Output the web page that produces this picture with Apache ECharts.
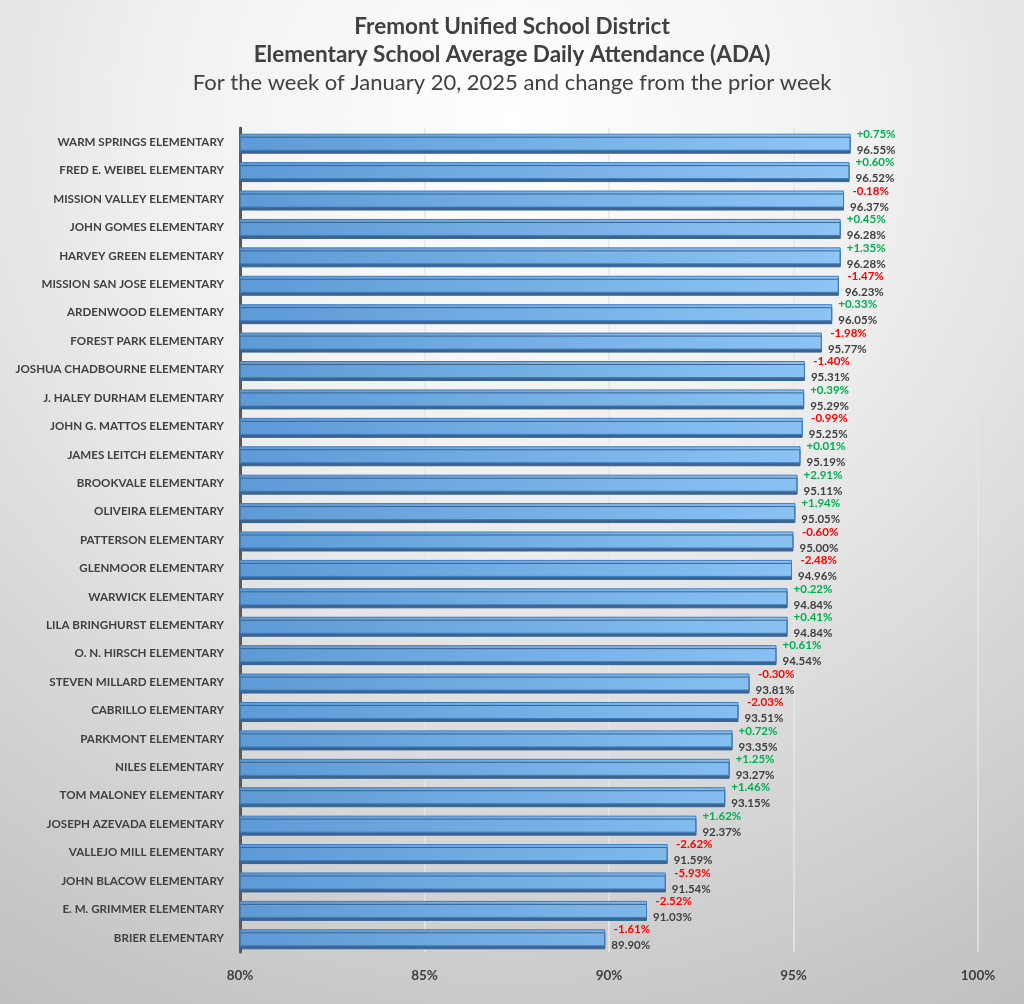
<!DOCTYPE html>
<html>
<head>
<meta charset="utf-8">
<script src="https://cdn.jsdelivr.net/npm/echarts@6/dist/echarts.min.js"></script>
<style>
  html, body { margin: 0; padding: 0; }
  #chart { width: 1024px; height: 1004px; }
</style>
</head>
<body>
<div id="chart"></div>
<script>
// schools, top to bottom
var schools = [
  'WARM SPRINGS ELEMENTARY', 'FRED E. WEIBEL ELEMENTARY', 'MISSION VALLEY ELEMENTARY',
  'JOHN GOMES ELEMENTARY', 'HARVEY GREEN ELEMENTARY', 'MISSION SAN JOSE ELEMENTARY',
  'ARDENWOOD ELEMENTARY', 'FOREST PARK ELEMENTARY', 'JOSHUA CHADBOURNE ELEMENTARY',
  'J. HALEY DURHAM ELEMENTARY', 'JOHN G. MATTOS ELEMENTARY', 'JAMES LEITCH ELEMENTARY',
  'BROOKVALE ELEMENTARY', 'OLIVEIRA ELEMENTARY', 'PATTERSON ELEMENTARY',
  'GLENMOOR ELEMENTARY', 'WARWICK ELEMENTARY', 'LILA BRINGHURST ELEMENTARY',
  'O. N. HIRSCH ELEMENTARY', 'STEVEN MILLARD ELEMENTARY', 'CABRILLO ELEMENTARY',
  'PARKMONT ELEMENTARY', 'NILES ELEMENTARY', 'TOM MALONEY ELEMENTARY',
  'JOSEPH AZEVADA ELEMENTARY', 'VALLEJO MILL ELEMENTARY', 'JOHN BLACOW ELEMENTARY',
  'E. M. GRIMMER ELEMENTARY', 'BRIER ELEMENTARY'
];
// ADA % for the week of Jan 20, 2025
var ada = [
  96.55, 96.52, 96.37, 96.28, 96.28, 96.23, 96.05, 95.77, 95.31, 95.29,
  95.25, 95.19, 95.11, 95.05, 95.00, 94.96, 94.84, 94.84, 94.54, 93.81,
  93.51, 93.35, 93.27, 93.15, 92.37, 91.59, 91.54, 91.03, 89.90
];
// change from prior week
var change = [
  0.75, 0.60, -0.18, 0.45, 1.35, -1.47, 0.33, -1.98, -1.40, 0.39,
  -0.99, 0.01, 2.91, 1.94, -0.60, -2.48, 0.22, 0.41, 0.61, -0.30,
  -2.03, 0.72, 1.25, 1.46, 1.62, -2.62, -5.93, -2.52, -1.61
];
var xTicks = [80, 85, 90, 95, 100];

var chart = echarts.init(document.getElementById('chart'));
var font = 'Lato';

var option = {
  backgroundColor: {
    type: 'radial', x: 0.5, y: 0.12, r: 1.05,
    colorStops: [
      { offset: 0, color: '#ffffff' },
      { offset: 0.35, color: '#f0f0f0' },
      { offset: 1, color: '#bdbdbd' }
    ]
  },
  title: [
    {
      text: 'Fremont Unified School District', left: 'center', top: 10,
      textStyle: { fontFamily: font, fontSize: 22.5, fontWeight: 'bold', color: '#404040' }
    },
    {
      text: 'Elementary School Average Daily Attendance (ADA)', left: 'center', top: 38,
      textStyle: { fontFamily: font, fontSize: 22.5, fontWeight: 'bold', color: '#404040' }
    },
    {
      text: 'For the week of January 20, 2025 and change from the prior week', left: 'center', top: 67,
      textStyle: { fontFamily: font, fontSize: 22, fontWeight: 'normal', color: '#404040' }
    }
  ],
  grid: { left: 240, right: 46, top: 128, bottom: 52 },
  xAxis: {
    type: 'value', min: 80, max: 100, interval: 5,
    axisLine: { show: false },
    axisTick: { show: false },
    splitLine: { lineStyle: { color: '#e6e6e6', width: 1.5 } },
    axisLabel: {
      margin: 17, fontFamily: font, fontSize: 13.5, fontWeight: 'bold', color: '#404040',
      formatter: function (v) { return xTicks.indexOf(v) >= 0 ? v + '%' : ''; }
    }
  },
  yAxis: {
    type: 'category', data: schools, inverse: true,
    axisLine: { lineStyle: { color: '#595959', width: 3 } },
    axisTick: { show: false },
    axisLabel: { margin: 16, fontFamily: font, fontSize: 11.6, fontWeight: 'bold', color: '#404040' }
  },
  series: [{
    type: 'bar',
    data: ada,
    barWidth: 17,
    itemStyle: {
      color: {
        type: 'linear', global: true, x: 240, y: 0, x2: 880, y2: 0,
        colorStops: [
          { offset: 0, color: '#5e9ad5' },
          { offset: 1, color: '#90c8f7' }
        ]
      },
      borderColor: '#3f7dc0',
      borderWidth: 1,
      shadowColor: '#3b6491',
      shadowOffsetY: 3,
      shadowOffsetX: 0,
      shadowBlur: 0
    },
    label: {
      show: true,
      position: 'right',
      distance: 6,
      formatter: function (p) {
        var c = change[p.dataIndex];
        var s = (c >= 0 ? '+' : '') + c.toFixed(2) + '%';
        return '{' + (c >= 0 ? 'up' : 'dn') + '|' + s + '}\n{v|' + p.value.toFixed(2) + '%}';
      },
      rich: {
        up: { fontFamily: font, fontSize: 11.5, fontWeight: 'bold', color: '#00b050', align: 'right', lineHeight: 16 },
        dn: { fontFamily: font, fontSize: 11.5, fontWeight: 'bold', color: '#ff0000', align: 'right', lineHeight: 16 },
        v: { fontFamily: font, fontSize: 11.5, fontWeight: 'bold', color: '#404040', align: 'right', lineHeight: 16 }
      }
    }
  }]
};

chart.setOption(option);
window.addEventListener('resize', function () { chart.resize(); });
</script>
</body>
</html>
